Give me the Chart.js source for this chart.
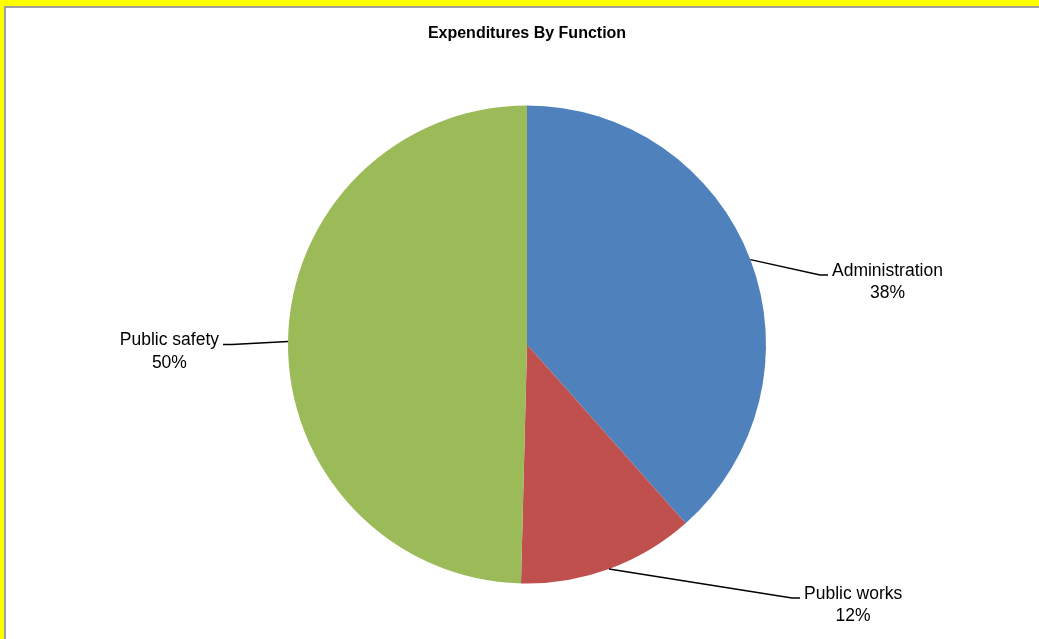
<!DOCTYPE html>
<html lang="en">
<head>
    <meta charset="UTF-8">
    <title>Expenditures By Function</title>
    <script src="https://cdn.jsdelivr.net/npm/chart.js"></script>
    <style>
        html, body { margin: 0; padding: 0; width: 1039px; height: 639px; overflow: hidden; background: #ffff00; }
        #frame { position: absolute; left: 4px; top: 6px; width: 1100px; height: 700px; background: #fff;
                 border-left: 2px solid #a0a0a0; border-top: 2px solid #a0a0a0; }
        #wrap { position: absolute; left: 0; top: 0; width: 1039px; height: 639px; }
    </style>
</head>
<body>
    <div id="frame"></div>
    <div id="wrap"><canvas id="pieChart" width="1039" height="639"></canvas></div>

    <script>
        const categories = ['Administration', 'Public works', 'Public safety'];
        const shares = [38.45, 11.95, 49.6];
        const sliceColors = ['#4F81BD', '#C0504D', '#9BBB59'];

        const labelFont = '17.5px "Liberation Sans", Arial, sans-serif';

        // leader lines + two-line labels, like the spreadsheet's "best fit"
        const leaderLabels = {
            id: 'leaderLabels',
            afterDatasetsDraw(chart, args, opts) {
                const ctx = chart.ctx;
                const meta = chart.getDatasetMeta(0);
                const data = chart.data.datasets[0].data;
                const total = data.reduce((a, b) => a + b, 0);
                ctx.save();
                ctx.font = labelFont;
                ctx.fillStyle = '#000';
                ctx.strokeStyle = '#000';
                ctx.lineWidth = 1.4;
                meta.data.forEach((arc, i) => {
                    const p = arc.getProps(['x', 'y', 'startAngle', 'endAngle', 'outerRadius'], true);
                    const mid = (p.startAngle + p.endAngle) / 2;
                    const ex = p.x + Math.cos(mid) * p.outerRadius;
                    const ey = p.y + Math.sin(mid) * p.outerRadius;
                    const el = opts.elbows[i];
                    const bx = p.x + el[0];
                    const by = p.y + el[1];
                    const right = el[0] > 0;
                    const sx = bx + (right ? 8 : -9);
                    ctx.beginPath();
                    ctx.moveTo(ex, ey);
                    ctx.lineTo(bx, by);
                    ctx.lineTo(sx, by);
                    ctx.stroke();

                    const line1 = chart.data.labels[i];
                    const line2 = Math.round(data[i] / total * 100) + '%';
                    const w = Math.max(ctx.measureText(line1).width, ctx.measureText(line2).width);
                    const cx = right ? sx + 4 + w / 2 : sx - 4 - w / 2;
                    ctx.textAlign = 'center';
                    ctx.textBaseline = 'middle';
                    ctx.fillText(line1, cx, by - 4);
                    ctx.fillText(line2, cx, by + 18.5);
                });
                ctx.restore();
            }
        };

        const ctx = document.getElementById('pieChart').getContext('2d');
        new Chart(ctx, {
            type: 'pie',
            data: {
                labels: categories,
                datasets: [{
                    data: shares,
                    backgroundColor: sliceColors,
                    borderWidth: 0,
                    hoverOffset: 0
                }]
            },
            options: {
                responsive: false,
                animation: false,
                layout: {
                    padding: { left: 288, right: 273, top: 0, bottom: 55.5 }
                },
                plugins: {
                    legend: { display: false },
                    tooltip: { enabled: false },
                    title: {
                        display: true,
                        text: 'Expenditures By Function',
                        color: '#000',
                        font: { family: '"Liberation Sans", Arial, sans-serif', size: 16, weight: 'bold' },
                        padding: { top: 24.4, bottom: 61.9 }
                    },
                    leaderLabels: {
                        elbows: [[293, -69.5], [265, 253.5], [-295, 0]]
                    }
                }
            },
            plugins: [leaderLabels]
        });
    </script>
</body>
</html>
